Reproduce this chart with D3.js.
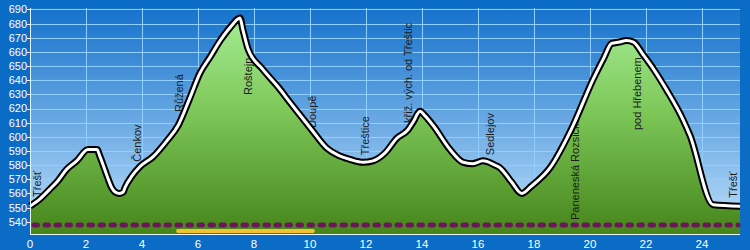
<!DOCTYPE html>
<html>
<head>
<meta charset="utf-8">
<script src="https://cdn.jsdelivr.net/npm/d3@7"></script>
<style>
  body { margin: 0; background: #0b6cc6; }
  svg { display: block; font-family: "Liberation Sans", Arial, sans-serif; }
</style>
</head>
<body>
<svg id="chart" width="750" height="250"></svg>
<script>
// profile: distance (km) and elevation (m)
const distKm = [0, 0.35, 0.71, 1.0, 1.31, 1.67, 2.07, 2.39, 2.5, 2.74, 2.92, 3.04, 3.2, 3.33, 3.39, 3.63, 3.93, 4.4, 4.88, 5.29, 5.7, 6.07, 6.45, 6.79, 7.05, 7.26, 7.4, 7.5, 7.6, 7.79, 8.3, 8.87, 9.3, 9.7, 10.06, 10.6, 11.0, 11.43, 11.9, 12.25, 12.7, 13.1, 13.5, 13.7, 13.93, 14.1, 14.4, 15.0, 15.47, 15.8, 16.18, 16.6, 16.79, 17.2, 17.56, 17.9, 18.57, 19.35, 20.12, 20.5, 20.77, 21.05, 21.3, 21.55, 21.9, 22.3, 22.74, 23.3, 23.57, 24.4, 25.36];
const elevM = [551, 556, 563, 569, 577, 583, 591, 591, 586, 573, 564, 561, 560, 561, 564, 572, 579, 586, 597, 608, 627, 645, 657, 668, 675, 680, 683, 684, 676, 662, 648, 635, 624, 614, 605, 592, 587, 584, 582, 583, 589, 599, 605, 611, 618, 615, 608, 591, 582, 581, 583, 580, 578, 568, 560, 565, 578, 606, 641, 656, 666, 667, 668, 667, 658, 647, 633, 613, 601, 552, 551];

// waypoints: name, km, elevation where the label starts
const placeNames = ["Třešť", "Čenkov", "Růžená", "Roštejn", "Doupě", "Třeštice", "křiž. vých. od Třeštic", "Sedlejov", "Paneneská Rozsička", "pod Hřebenem", "Třešť"];
const placeKm = [0.25, 3.82, 5.32, 7.8, 10.06, 11.96, 13.49, 16.43, 19.46, 21.67, 25.1];
const placeElev = [557.5, 582.4, 617.5, 629.6, 606.2, 587, 609.8, 587, 541.2, 604.8, 557];

// route bands (km from, km to)
const dashedBand = [0, 25.36];
const yellowBand = [5.29, 10.1];

const yTicks = d3.range(540, 691, 10);
const xTicks = d3.range(0, 25, 2);

const plotLeft = 30, plotRight = 740, plotTop = 8, plotBottom = 234;

const svg = d3.select("#chart");

const x = d3.scaleLinear().domain([0, 25.357]).range([plotLeft, plotRight]);
const y = d3.scaleLinear().domain([531.3, 691.06]).range([plotBottom, plotTop]);

const defs = svg.append("defs");
const sky = defs.append("linearGradient").attr("id", "sky")
    .attr("gradientUnits", "userSpaceOnUse")
    .attr("x1", 0).attr("y1", plotTop).attr("x2", 0).attr("y2", plotBottom);
sky.append("stop").attr("offset", 0).attr("stop-color", "#1572cc");
sky.append("stop").attr("offset", 1).attr("stop-color", "#bfe0fa");

const grass = defs.append("linearGradient").attr("id", "grass")
    .attr("gradientUnits", "userSpaceOnUse")
    .attr("x1", 0).attr("y1", plotTop).attr("x2", 0).attr("y2", plotBottom);
grass.append("stop").attr("offset", 0).attr("stop-color", "#a8f098");
grass.append("stop").attr("offset", 0.45).attr("stop-color", "#7ec85a");
grass.append("stop").attr("offset", 1).attr("stop-color", "#46851a");

svg.append("rect").attr("width", 750).attr("height", 250).attr("fill", "#0b6cc6");
svg.append("rect")
    .attr("x", plotLeft).attr("y", plotTop)
    .attr("width", plotRight - plotLeft).attr("height", plotBottom - plotTop)
    .attr("fill", "url(#sky)");

// grid
svg.append("g")
  .selectAll("line")
  .data(yTicks)
  .join("line")
    .attr("x1", plotLeft).attr("x2", plotRight)
    .attr("y1", d => Math.round(y(d)) + 0.5).attr("y2", d => Math.round(y(d)) + 0.5)
    .attr("stroke", "#8fd0ff").attr("stroke-width", 1);

svg.append("g")
  .selectAll("line")
  .data(xTicks.filter(d => d > 0))
  .join("line")
    .attr("x1", d => Math.round(x(d)) + 0.5).attr("x2", d => Math.round(x(d)) + 0.5)
    .attr("y1", plotTop).attr("y2", plotBottom)
    .attr("stroke", "#8fd0ff").attr("stroke-width", 1);

const profile = distKm.map((d, i) => [d, elevM[i]]);

const area = d3.area()
    .x(d => x(d[0]))
    .y0(plotBottom)
    .y1(d => y(d[1]))
    .curve(d3.curveMonotoneX);

const line = d3.line()
    .x(d => x(d[0]))
    .y(d => y(d[1]))
    .curve(d3.curveMonotoneX);

svg.append("path").datum(profile)
    .attr("d", area)
    .attr("fill", "url(#grass)");

// place labels
svg.append("g")
  .selectAll("text")
  .data(placeNames)
  .join("text")
    .attr("transform", (d, i) => `translate(${x(placeKm[i])},${y(placeElev[i])}) rotate(-90)`)
    .attr("dy", "0.35em")
    .attr("font-size", 11)
    .attr("fill", "#1c1c1c")
    .text(d => d);

svg.append("path").datum(profile)
    .attr("d", line)
    .attr("fill", "none")
    .attr("stroke", "#000")
    .attr("stroke-width", 7)
    .attr("stroke-linejoin", "round");

svg.append("path").datum(profile)
    .attr("d", line)
    .attr("fill", "none")
    .attr("stroke", "#fff")
    .attr("stroke-width", 3)
    .attr("stroke-linejoin", "round");

// route bands
svg.append("line")
    .attr("x1", x(dashedBand[0]) + 4).attr("x2", x(dashedBand[1]) - 2)
    .attr("y1", 225).attr("y2", 225)
    .attr("stroke", "#6a1858").attr("stroke-width", 5)
    .attr("stroke-linecap", "round")
    .attr("stroke-dasharray", "3.5 7.5");

svg.append("line")
    .attr("x1", x(yellowBand[0])).attr("x2", x(yellowBand[1]))
    .attr("y1", 231).attr("y2", 231)
    .attr("stroke", "#f2c233").attr("stroke-width", 4)
    .attr("stroke-linecap", "round");

// axes
svg.append("line")
    .attr("x1", plotLeft).attr("x2", plotRight)
    .attr("y1", plotBottom + 0.5).attr("y2", plotBottom + 0.5)
    .attr("stroke", "#e8f6ff").attr("stroke-width", 1);
svg.append("line")
    .attr("x1", plotLeft + 0.5).attr("x2", plotLeft + 0.5)
    .attr("y1", plotTop).attr("y2", plotBottom)
    .attr("stroke", "#e8f6ff").attr("stroke-width", 1);

const yAxis = svg.append("g");
yAxis.selectAll("line")
  .data(yTicks)
  .join("line")
    .attr("x1", plotLeft - 3).attr("x2", plotLeft)
    .attr("y1", d => Math.round(y(d)) + 0.5).attr("y2", d => Math.round(y(d)) + 0.5)
    .attr("stroke", "#e8f6ff");
yAxis.selectAll("text")
  .data(yTicks)
  .join("text")
    .attr("x", plotLeft - 3)
    .attr("y", d => y(d))
    .attr("dy", "0.36em")
    .attr("text-anchor", "end")
    .attr("font-size", 11)
    .attr("fill", "#ffffff")
    .text(d => d);

svg.append("g")
  .selectAll("text")
  .data(xTicks)
  .join("text")
    .attr("x", d => x(d))
    .attr("y", 248)
    .attr("text-anchor", "middle")
    .attr("font-size", 11.5)
    .attr("fill", "#ffffff")
    .text(d => d);
</script>
</body>
</html>
